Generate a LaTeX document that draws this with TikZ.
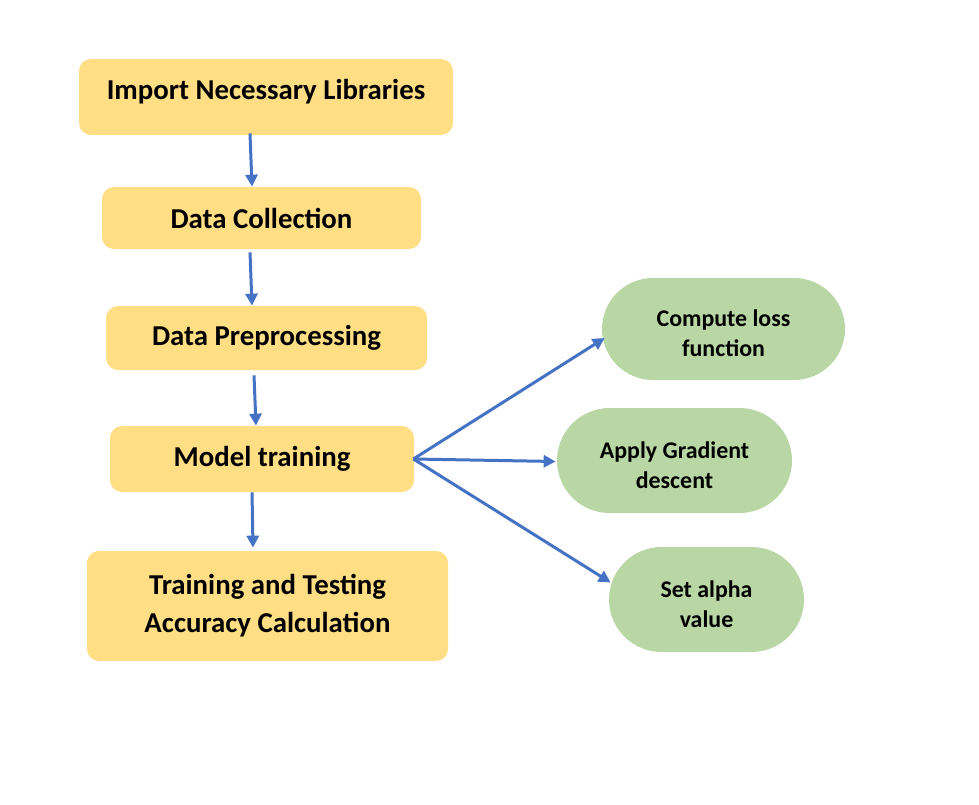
\documentclass[tikz,border=0pt]{standalone}
\usepackage{fontspec}
\setmainfont{Carlito}
\usetikzlibrary{positioning}
\usetikzlibrary{arrows.meta}
\usetikzlibrary{shapes.misc}
\definecolor{stageyellow}{HTML}{FFDE84}
\definecolor{taskgreen}{HTML}{B8D7A4}
\definecolor{linkblue}{HTML}{4472C4}
\newdimen\pxu \pxu=0.02cm
\newcommand\taskstrut{\rule{0pt}{26\pxu}}

\begin{document}
\begin{tikzpicture}[
 x=0.02cm, y=-0.02cm,
 stagebox/.style={rectangle, rounded corners=12\pxu, fill=stageyellow, align=center, inner sep=0pt, font=\fontsize{16.4}{21.5}\selectfont\bfseries},
 taskbox/.style={rounded rectangle, fill=taskgreen, align=center, inner sep=0pt, font=\fontsize{13.6}{17}\selectfont\bfseries},
 arrow/.style={-{Triangle[length=2.4mm, width=2.4mm]}, linkblue, line width=3\pxu}
]
\useasboundingbox (0,0) rectangle (979,804);

% Pipeline stages
\node[stagebox, minimum width=374\pxu, minimum height=76\pxu, text height=19\pxu, text depth=13\pxu] (imp) at (266,97) {Import Necessary Libraries};
\node[stagebox, minimum width=319\pxu, minimum height=62\pxu] (coll) at (261.5,218) {Data Collection};
\node[stagebox, minimum width=321\pxu, minimum height=64\pxu] (prep) at (266.5,338) {Data Preprocessing};
\node[stagebox, minimum width=304\pxu, minimum height=66\pxu] (train) at (262,459) {Model training};
\node[stagebox, minimum width=361\pxu, minimum height=110\pxu] (acc) at (267.5,606) {Training and Testing\\Accuracy Calculation};

% Training steps
\node[taskbox, minimum width=243\pxu, minimum height=102\pxu] (loss) at (723.5,329) {\taskstrut Compute loss\\function};
\node[taskbox, minimum width=235\pxu, minimum height=105\pxu] (grad) at (674.5,460.5) {\taskstrut Apply Gradient\\descent};
\node[taskbox, minimum width=195\pxu, minimum height=105\pxu] (alpha) at (706.5,599.5) {\taskstrut Set alpha\\value};

% Stage to stage
\draw[arrow] ([shift={(-16,-2)}]imp.south) -- ([xshift=-9.5\pxu]coll.north);
\draw[arrow] ([shift={(-11.5,3)}]coll.south) -- ([xshift=-14.5\pxu]prep.north);
\draw[arrow] ([shift={(-12.5,5)}]prep.south) -- ([xshift=-6\pxu]train.north);
\draw[arrow] ([xshift=-10\pxu]train.south) -- ([shift={(-14.5,-3)}]acc.north);

% Model training to its steps
\draw[arrow] ([xshift=-1\pxu]train.east) -- ([shift={(3,9)}]loss.west);
\draw[arrow] ([xshift=-1\pxu]train.east) -- ([shift={(-1,1)}]grad.west);
\draw[arrow] ([xshift=-1\pxu]train.east) -- ([shift={(2,-17)}]alpha.west);
\end{tikzpicture}
\end{document}
